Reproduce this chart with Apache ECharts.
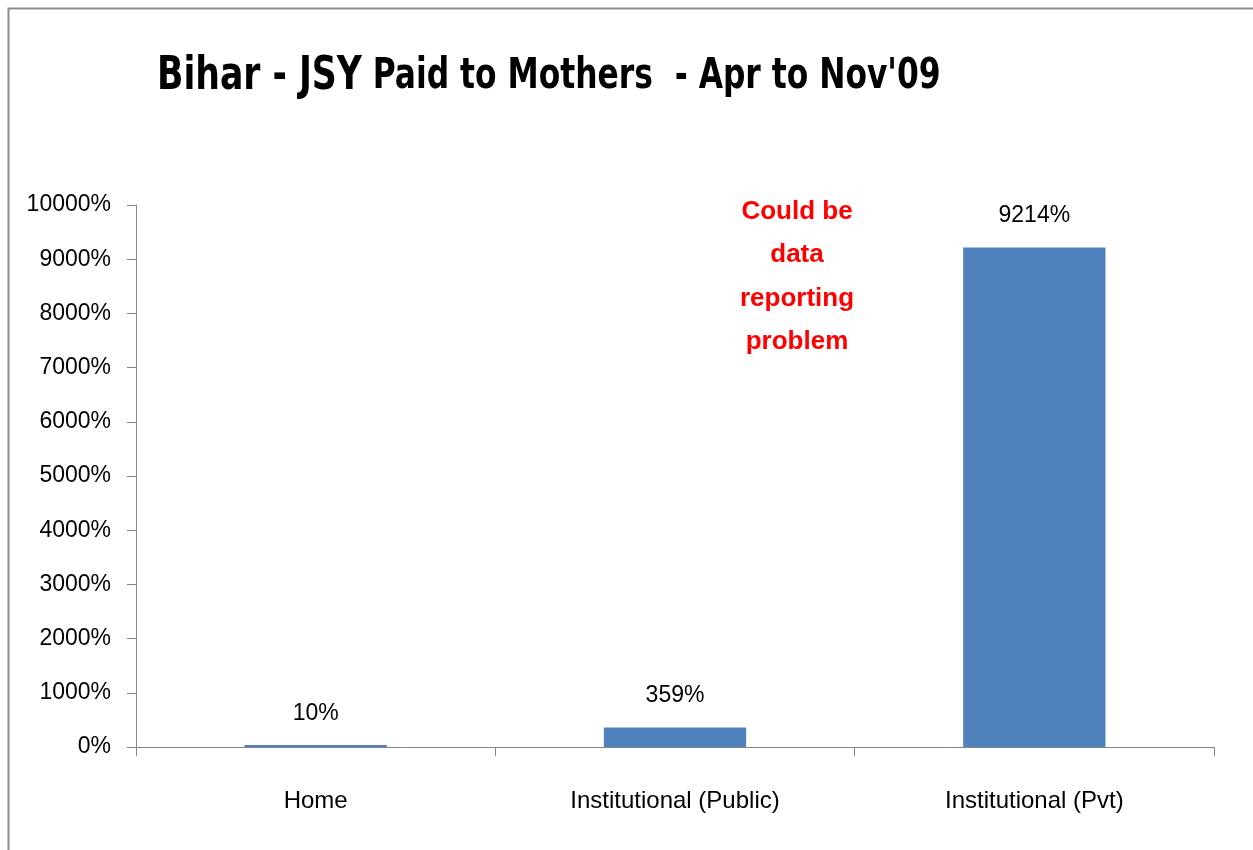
<!DOCTYPE html>
<html><head><meta charset="utf-8">
<script src="https://cdn.jsdelivr.net/npm/echarts@6/dist/echarts.min.js"></script>
<style>html,body{margin:0;padding:0;background:#fff}#c{width:1253px;height:850px}</style>
</head><body><div id="c"></div>
<script>
const categories = ['Home', 'Institutional (Public)', 'Institutional (Pvt)'];
const values = [10, 359, 9214];
const yTicks = { min: 0, max: 10000, interval: 1000 };
const titleMain = 'Bihar - JSY';
const titleRest = ' Paid to Mothers  - Apr to Nov\'09';
const annotation = 'Could be\ndata\nreporting\nproblem';

const chart = echarts.init(document.getElementById('c'));
const font = '"Liberation Sans", Arial, sans-serif';
const narrow = '"Liberation Sans Narrow", "DejaVu Sans Condensed", sans-serif';
chart.setOption({
  animation: false,
  backgroundColor: '#fff',
  graphic: [
    { type: 'rect', shape: { x: 8.5, y: 8.5, width: 1300, height: 900 },
      style: { fill: 'none', stroke: '#8c8c8c', lineWidth: 2 }, silent: true },
    { type: 'text', x: 157, y: 54, scaleX: 0.917, scaleY: 1.1,
      style: { rich: {
          a: { fontFamily: narrow, fontWeight: 'bold', fontSize: 42, fill: '#000' },
          b: { fontFamily: narrow, fontWeight: 'bold', fontSize: 38, fill: '#000' } },
        text: '{a|' + titleMain + '}{b|' + titleRest + '}' } },
    { type: 'text', x: 797, y: 190,
      style: { text: annotation, fontFamily: font, fontWeight: 'bold', fontSize: 26,
        lineHeight: 43.5, fill: '#ff0000', align: 'center' } }
  ],
  grid: { left: 136, right: 39, top: 205, bottom: 103, containLabel: false },
  xAxis: {
    type: 'category', data: categories,
    axisLine: { lineStyle: { color: '#868686', width: 1 } },
    axisTick: { show: true, length: 9, lineStyle: { color: '#868686' } },
    axisLabel: { fontFamily: font, fontSize: 24, color: '#000', margin: 42 }
  },
  yAxis: {
    type: 'value', min: yTicks.min, max: yTicks.max, interval: yTicks.interval,
    axisLine: { show: true, lineStyle: { color: '#868686', width: 1 } },
    axisTick: { show: true, length: 9, lineStyle: { color: '#868686' } },
    splitLine: { show: false },
    axisLabel: { fontFamily: font, fontSize: 23, color: '#000', margin: 25,
      formatter: function (v) { return v + '%'; } }
  },
  series: [{
    type: 'bar', data: values, barWidth: '39.6%', barMinHeight: 2,
    itemStyle: { color: '#4F81BD' },
    label: { show: true, position: 'top', distance: 20, fontFamily: font, fontSize: 23,
      color: '#000', formatter: '{c}%' }
  }]
});
</script></body></html>
